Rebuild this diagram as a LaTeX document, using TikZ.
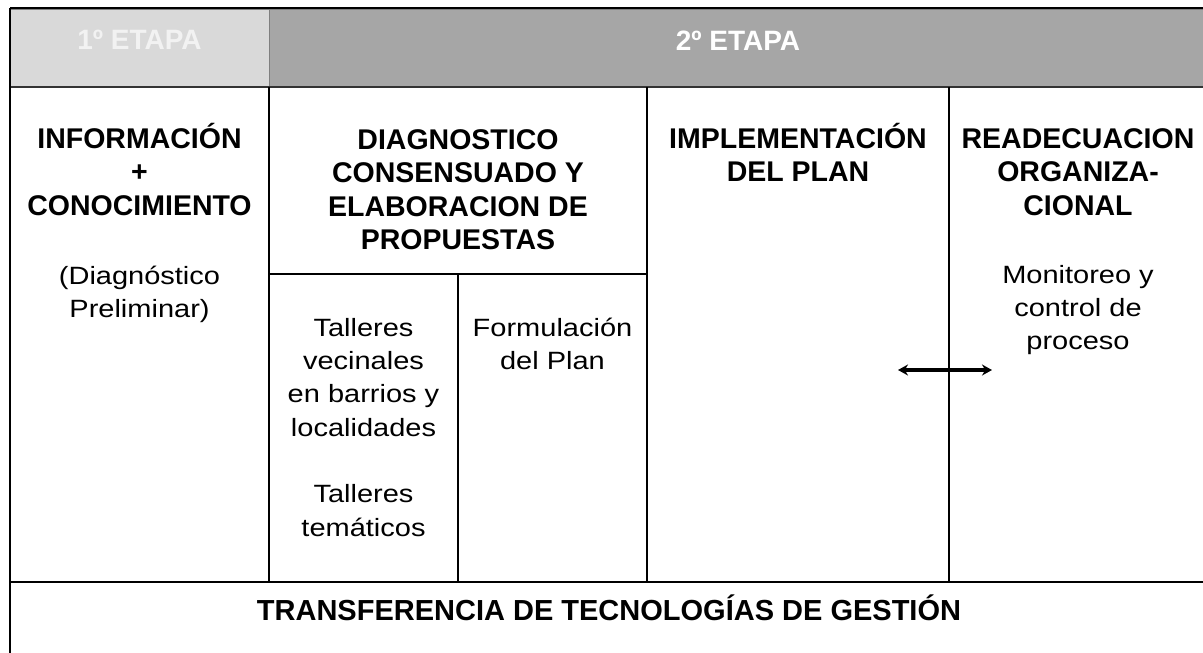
\documentclass[tikz,border=0pt]{standalone}
\usepackage{fontspec}
\setmainfont{Liberation Sans}
\newfontfamily\regfont[FakeStretch=1.16]{Liberation Sans}
\usetikzlibrary{arrows.meta}
\definecolor{etapaA}{HTML}{D9D9D9}
\definecolor{etapaB}{HTML}{A6A6A6}
\definecolor{etapaEdge}{HTML}{7F7F7F}
\newcommand\fls{\rule{0pt}{30pt}}
\tikzset{
  hd/.style={font=\fontsize{28.5}{33.5}\selectfont\bfseries, align=center, anchor=north, inner sep=0pt},
  rg/.style={font=\regfont\fontsize{25}{33.3}\selectfont, align=center, anchor=north, inner sep=0pt},
  etapa/.style={font=\fontsize{28}{33}\selectfont\bfseries, anchor=base, inner sep=0pt},
  gridline/.style={line width=1.3pt, black},
  thickline/.style={line width=2.6pt, black},
  band/.style={draw=etapaEdge, line width=1pt},
  twoway/.style={line width=3.2pt, {Stealth[length=10pt,width=11pt]}-{Stealth[length=10pt,width=11pt]}},
}
\begin{document}
\begin{tikzpicture}[x=1pt, y=-1pt]
\useasboundingbox[fill=white] (0,0) rectangle (1203,653);
% header band
\fill[etapaA, band] (10,9) rectangle (269,87);
\fill[etapaB, band] (269,9) rectangle (1210,87);
\draw[line width=1.6pt, black] (10,8) -- (1203,8);
\draw[line width=1.6pt, black!80] (10,87) -- (1203,87);
\node[etapa, text=white!95!black] (et1) at (139.5,49) {1º ETAPA};
\node[etapa, text=white] (et2) at (738,50) {2º ETAPA};
% grid
\draw[gridline] (10,8) -- (10,653);
\draw[gridline] (269,87) -- (269,582);
\draw[gridline] (647,87) -- (647,582);
\draw[gridline] (949,87) -- (949,582);
\draw[gridline] (269,274) -- (647,274);
\draw[gridline] (458,274) -- (458,582);
\draw[thickline] (10,582) -- (1203,582);
% texts
\node[hd] (info) at (139.5,118) {\fls INFORMACIÓN\\+\\CONOCIMIENTO};
\node[rg] (diagprel) at (139.5,254) {\fls (Diagnóstico\\Preliminar)};
\node[hd] (diag) at (458,119) {\fls DIAGNOSTICO\\CONSENSUADO Y\\ELABORACION DE\\PROPUESTAS};
\node[hd] (impl) at (798,118) {\fls IMPLEMENTACIÓN\\DEL PLAN};
\node[hd] (read) at (1078,118) {\fls READECUACION\\ORGANIZA-\\CIONAL};
\node[rg] (monit) at (1078,253) {\fls Monitoreo y\\control de\\proceso};
\node[rg] (talleres) at (363.5,306) {\fls Talleres\\vecinales\\en barrios y\\localidades\\[33.3pt]Talleres\\temáticos};
\node[rg] (formul) at (552.5,306) {\fls Formulación\\del Plan};
\node[hd, font=\fontsize{29}{34}\selectfont\bfseries] (transf) at (609,590) {\fls TRANSFERENCIA DE TECNOLOGÍAS DE GESTIÓN};
% arrow
\coordinate (arrL) at (898,370);
\coordinate (arrR) at (992,370);
\draw[twoway] (arrL) -- (arrR);
\end{tikzpicture}
\end{document}
